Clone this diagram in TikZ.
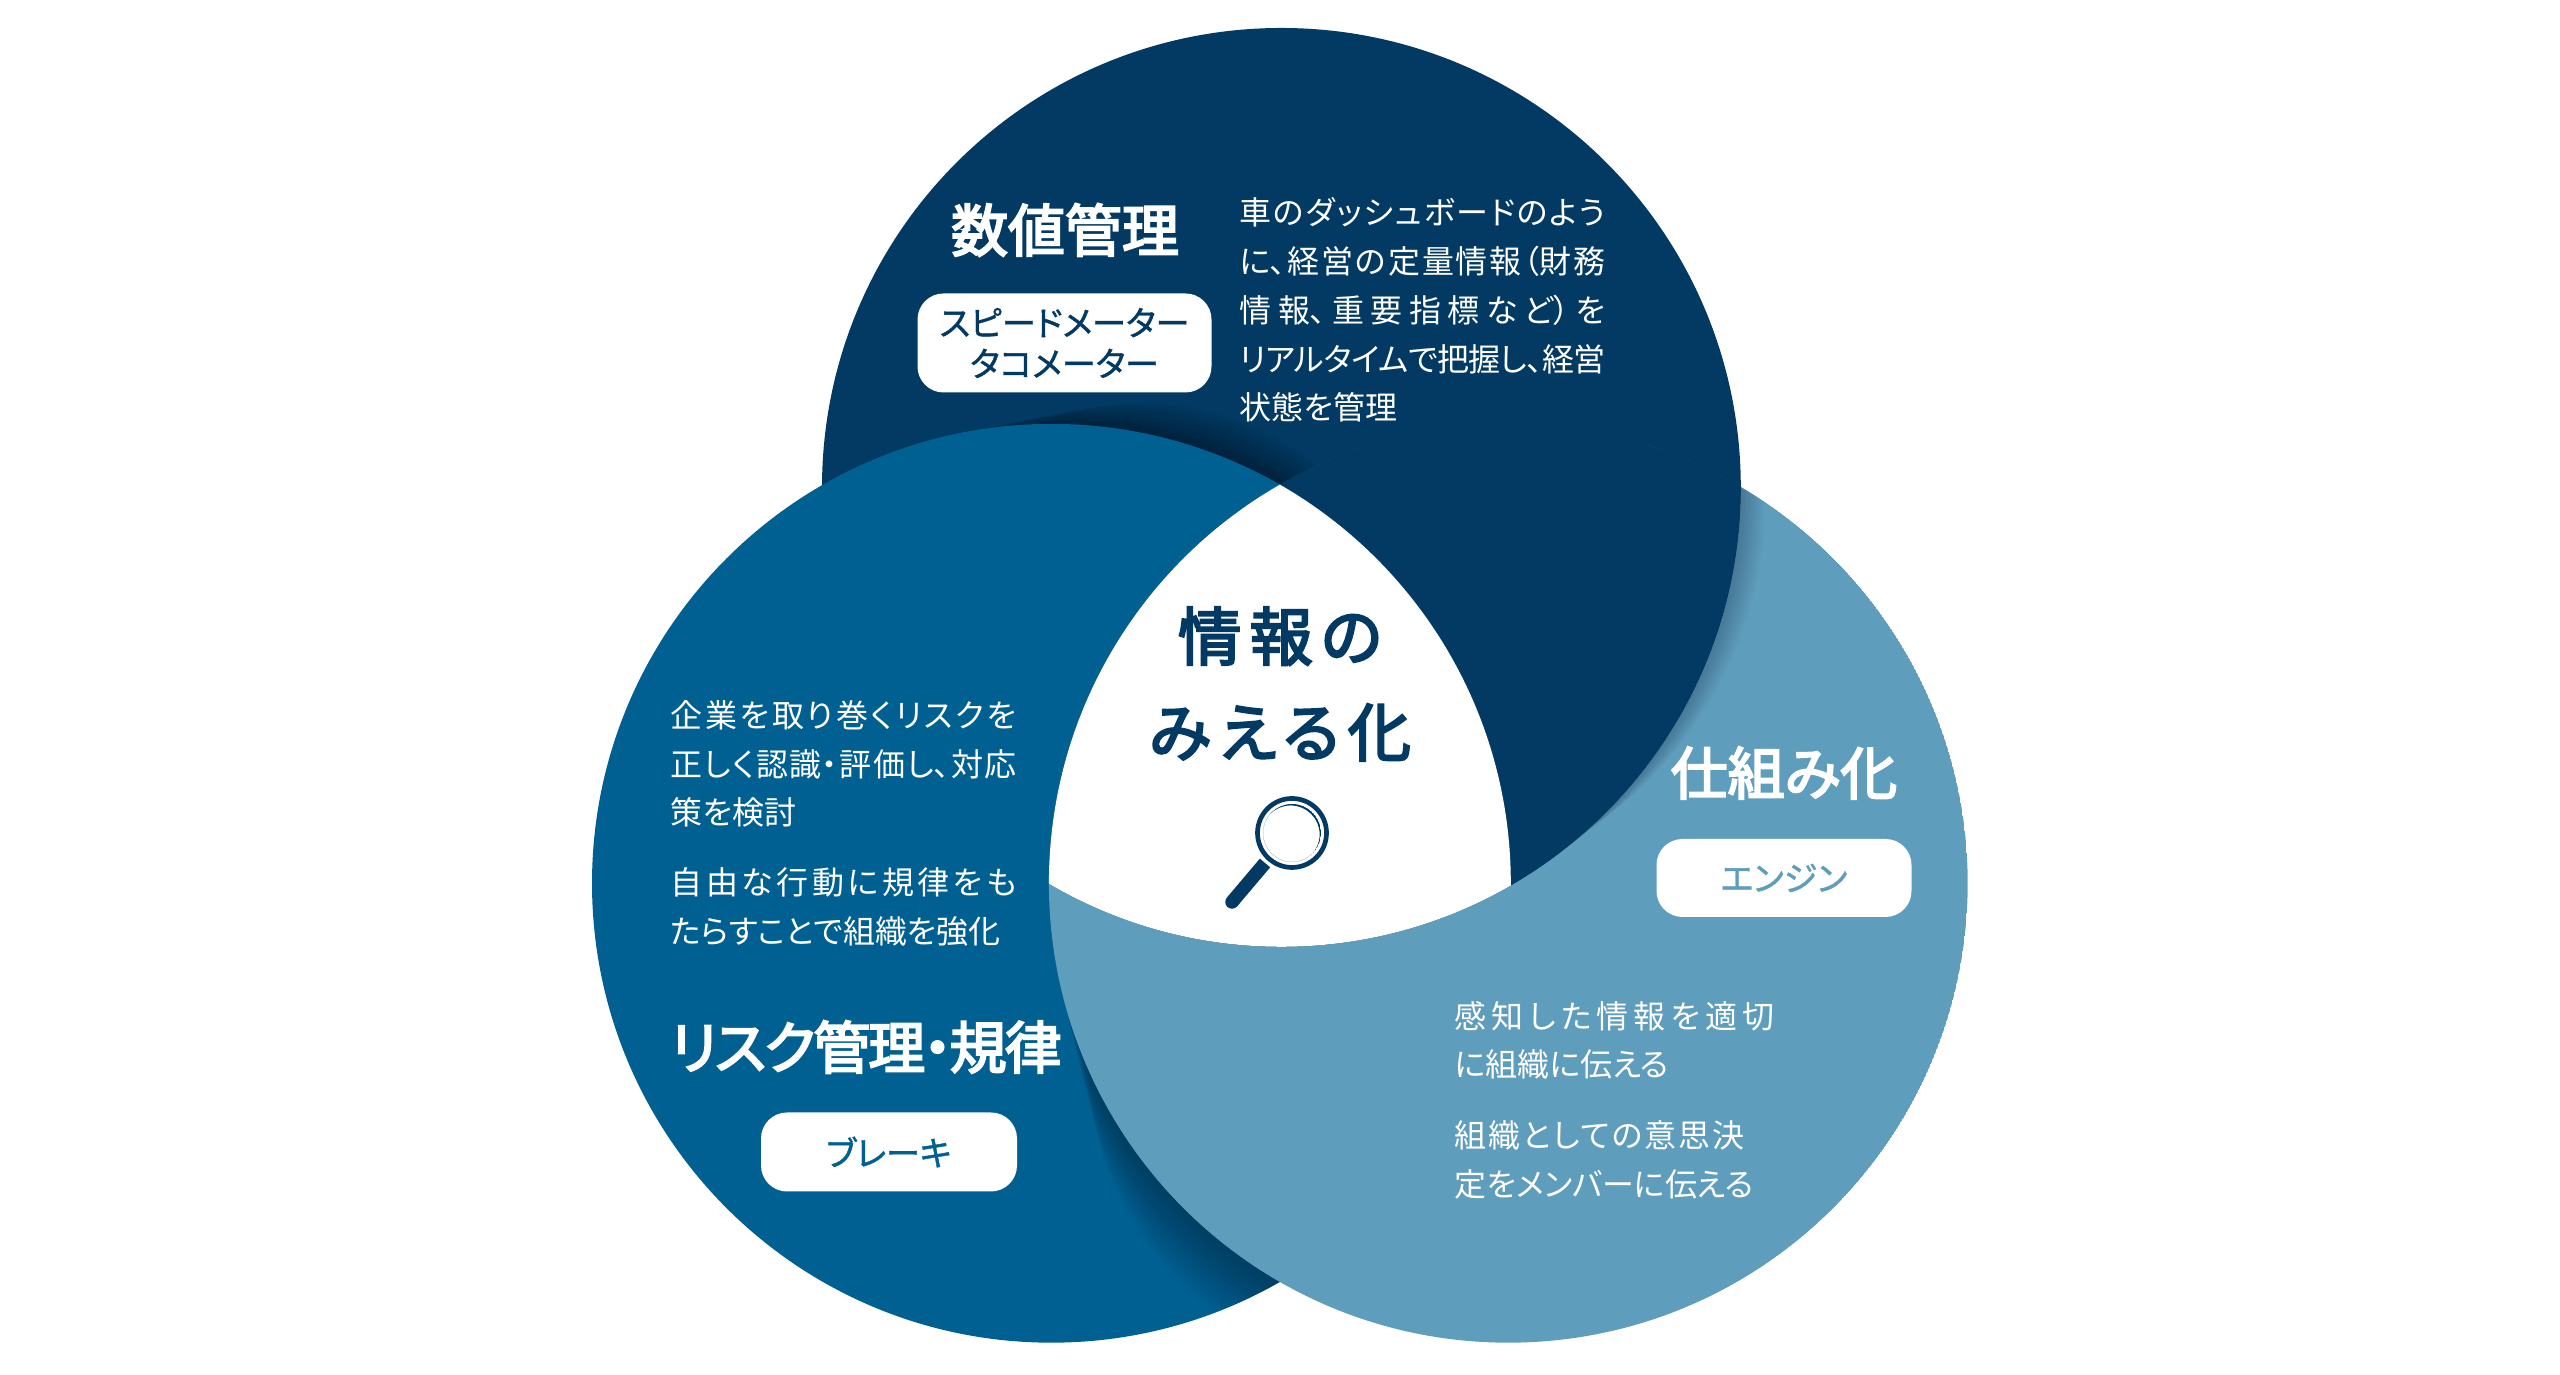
\documentclass[tikz,border=0pt]{standalone}
\usepackage{fontspec}
\setmainfont{Noto Sans CJK JP}[RawFeature=+palt]
\newfontfamily\headfont{Noto Sans CJK JP}[RawFeature=+palt, FakeBold=3.5]
\newfontfamily\midfont{Noto Sans CJK JP}[RawFeature=+palt, FakeBold=3.5, LetterSpace=13]
\newfontfamily\tagfont{Noto Sans CJK JP}[RawFeature=+palt, FakeBold=1.2]
\XeTeXlinebreaklocale "ja"
\XeTeXlinebreakskip=0pt plus 4pt minus 1pt
\XeTeXlinebreakpenalty=10000
\tolerance=9999
\hbadness=10000
\definecolor{navyc}{RGB}{3,58,99}
\definecolor{midc}{RGB}{0,96,146}
\definecolor{palec}{RGB}{95,157,188}
\tikzset{
	bodytext/.style={white, align=justify, anchor=west, inner sep=0pt, font=\fontsize{9.1pt}{13.9pt}\selectfont},
	sidetext/.style={white, align=left, anchor=west, inner sep=0pt, font=\fontsize{9.1pt}{13.7pt}\selectfont},
	headtext/.style={white, inner sep=0pt, font=\fontsize{16.2pt}{20pt}\headfont},
	tagbox/.style={fill=white, rounded corners=0.26cm, align=center, inner sep=0pt, font=\fontsize{9.7pt}{11.6pt}\tagfont}
}
% soft shadow that a circle throws on the one below it: centre, angle, reach, taper, opacity
\newcommand\softshadow[5]{
	\foreach \i in {1,...,12}{
		\pgfmathsetmacro{\sh}{#3*\i/12/(1-#4)}
		\pgfmathsetmacro{\rd}{r-\sh*#4}
		\fill[black, opacity=#5, shift={(#1)}] (#2:\sh) circle (\rd);
	}
}
\begin{document}
\begin{tikzpicture}[declare function={r=4.594;}]
	\useasboundingbox (0,0) rectangle (25.6,13.75);
	\path (12.814,8.876) coordinate (T) (10.514,4.917) coordinate (L) (15.083,4.917) coordinate (R);
	% each circle lies on the next one, round the ring
	\fill[navyc] (T) circle (r);
	\begin{scope}
		\clip (T) circle (r);
		\softshadow{L}{66}{0.4}{0.82}{0.03}
	\end{scope}
	\fill[midc] (L) circle (r);
	\begin{scope}
		\clip (L) circle (r);
		\softshadow{R}{238}{0.6}{0.72}{0.026}
	\end{scope}
	\begin{scope}
		\clip (R) circle (r);
		\fill[palec, even odd rule] (R) circle (r) (T) circle (r);
		\softshadow{T}{-8}{0.25}{0.72}{0.016}
		\fill[navyc] (T) circle (r);
	\end{scope}
	\begin{scope}
		\clip (T) circle (r);
		\clip (L) circle (r);
		\fill[white] (R) circle (r);
	\end{scope}
	\node[headtext] (topH) at (10.65,11.45) {数値管理};
	\node[tagbox, text=navyc, minimum width=2.94cm, minimum height=0.99cm] (topB) at (10.645,10.32) {スピードメーター\\タコメーター};
	\node[bodytext, text width=3.66cm] (topT) at (12.39,10.65) {車のダッシュボードのよう\linebreak に、経営の定量情報（財務\linebreak 情報、重要指標など）を\linebreak リアルタイムで把握し、経営\linebreak 状態を管理};
	\node[headtext] (leftH) at (8.66,3.28) {\addfontfeature{LetterSpace=-3.5}リスク管理・規律};
	\node[tagbox, text=midc, minimum width=2.56cm, minimum height=0.79cm] (leftB) at (8.89,2.23) {ブレーキ};
	\node[bodytext, text width=3.46cm] (leftT) at (6.70,6.11) {企業を取り巻くリスクを\linebreak 正しく認識・評価し、対応\linebreak 策を検討};
	\node[bodytext, text width=3.46cm] (leftU) at (6.70,4.68) {自由な行動に規律をも\linebreak たらすことで組織を強化};
	\node[headtext] (rightH) at (17.84,6.02) {仕組み化};
	\node[tagbox, text=palec, minimum width=2.55cm, minimum height=0.78cm] (rightB) at (17.84,4.97) {エンジン};
	\node[sidetext] (rightT) at (14.54,3.35) {\addfontfeature{LetterSpace=16}感知した情報を適切\\に組織に伝える};
	\node[sidetext] (rightU) at (14.54,2.15) {\addfontfeature{LetterSpace=6}組織としての意思決\\定をメンバーに伝える};
	\node[navyc, align=center, inner sep=0pt, font=\fontsize{18pt}{27.3pt}\midfont] (midT) at (12.80,6.91) {情報の\\みえる化};
	% magnifier
	\path (12.92,5.42) coordinate (lens) (12.65,5.12) coordinate (neck) (12.32,4.73) coordinate (tip);
	\draw[navyc, line width=0.047cm] (lens) circle (0.345);
	\begin{scope}
		\clip (lens) circle (0.29);
		\fill[navyc, even odd rule] (lens) circle (0.29) (lens) ++(227:0.02) circle (0.29);
	\end{scope}
	\draw[navyc, line width=0.135cm] (neck)--(tip);
	\fill[navyc] (tip) circle (0.0675);
\end{tikzpicture}
\end{document}
